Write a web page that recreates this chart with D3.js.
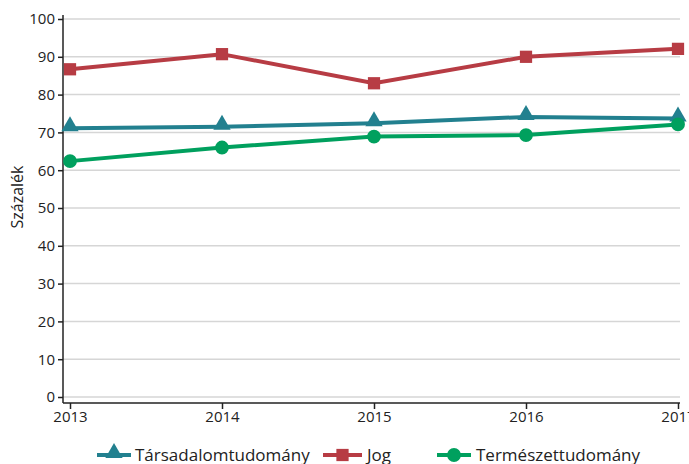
<!DOCTYPE html>
<html><head><meta charset="utf-8">
<script src="https://cdn.jsdelivr.net/npm/d3@7"></script>
<style>body{margin:0;background:#fff}svg{display:block}text{font-family:"Open Sans",sans-serif;fill:#222}</style>
</head><body>
<svg id="c" width="689" height="464"></svg>
<script>
const years = [2013, 2014, 2015, 2016, 2017];
const tarsadalom = [71.1, 71.5, 72.4, 74.1, 73.7];
const jog = [86.7, 90.7, 83.0, 90.0, 92.1];
const termeszet = [62.4, 66.0, 68.9, 69.3, 72.1];
const yTicks = [0, 10, 20, 30, 40, 50, 60, 70, 80, 90, 100];
const seriesNames = ["Társadalomtudomány", "Jog", "Természettudomány"];
const colors = ["#22808f", "#b73c44", "#00a05e"];
const symbols = [d3.symbolTriangle, d3.symbolSquare, d3.symbolCircle];

const svg = d3.select("#c");
const x = d3.scaleLinear().domain([2013, 2017]).range([70, 678]);
const y = d3.scaleLinear().domain([0, 100]).range([397, 19]);

// grid
svg.append("g").selectAll("line").data(yTicks).join("line")
  .attr("x1", 63).attr("x2", 680).attr("y1", d => y(d)).attr("y2", d => y(d))
  .attr("stroke", "#d6d6d6").attr("stroke-width", 1.5);

// y axis
const ya = svg.append("g").attr("transform", "translate(63,0)")
  .call(d3.axisLeft(y).tickValues(yTicks).tickSize(5).tickPadding(3));
ya.attr("font-size", null).attr("font-family", null);
ya.select(".domain").attr("d", "M0,15V403").attr("stroke", "#222").attr("stroke-width", 1.5);
ya.selectAll(".tick line").attr("stroke", "#222").attr("stroke-width", 1.5);
ya.selectAll("text").style("font-size", "15px").style("font-family", "'Open Sans',sans-serif").attr("fill", "#222");

// x axis
const xa = svg.append("g").attr("transform", "translate(0,403)")
  .call(d3.axisBottom(x).tickValues(years).tickFormat(d3.format("d")).tickSize(6).tickPadding(2));
xa.attr("font-size", null).attr("font-family", null);
xa.select(".domain").attr("d", "M63,0H680").attr("stroke", "#222").attr("stroke-width", 1.5);
xa.selectAll(".tick line").attr("stroke", "#222").attr("stroke-width", 1.5);
xa.selectAll("text").style("font-size", "15px").style("font-family", "'Open Sans',sans-serif").attr("fill", "#222");

// y label
svg.append("text").attr("transform", "translate(23,197) rotate(-90)")
  .attr("text-anchor", "middle").style("font-size", "16px").text("Százalék");

const data = [tarsadalom, jog, termeszet];
const line = d3.line().x((d, i) => x(years[i])).y(d => y(d));
data.forEach((vals, si) => {
  svg.append("path").datum(vals).attr("d", line).attr("fill", "none")
    .attr("stroke", colors[si]).attr("stroke-width", 4);
});
data.forEach((vals, si) => {
  svg.append("g").selectAll("path").data(vals).join("path")
    .attr("d", d3.symbol().type(symbols[si]).size(si === 0 ? 130 : 150))
    .attr("transform", (d, i) => `translate(${x(years[i])},${y(d) - (si === 0 ? 2 : 0)})`)
    .attr("fill", colors[si]);
});

// legend
const leg = [{x1: 97, x2: 131, tx: 135}, {x1: 323, x2: 362, tx: 367}, {x1: 437, x2: 471, tx: 476}];
leg.forEach((l, i) => {
  const g = svg.append("g");
  const ly = 455;
  g.append("line").attr("x1", l.x1).attr("x2", l.x2).attr("y1", ly).attr("y2", ly)
    .attr("stroke", colors[i]).attr("stroke-width", 4);
  g.append("path").attr("d", d3.symbol().type(symbols[i]).size(i === 0 ? 130 : 150))
    .attr("transform", `translate(${(l.x1 + l.x2) / 2},${ly - (i === 0 ? 2 : 0)})`).attr("fill", colors[i]);
  g.append("text").attr("x", l.tx).attr("y", ly + 6).style("font-size", "17px").text(seriesNames[i]);
});
</script>
</body></html>
